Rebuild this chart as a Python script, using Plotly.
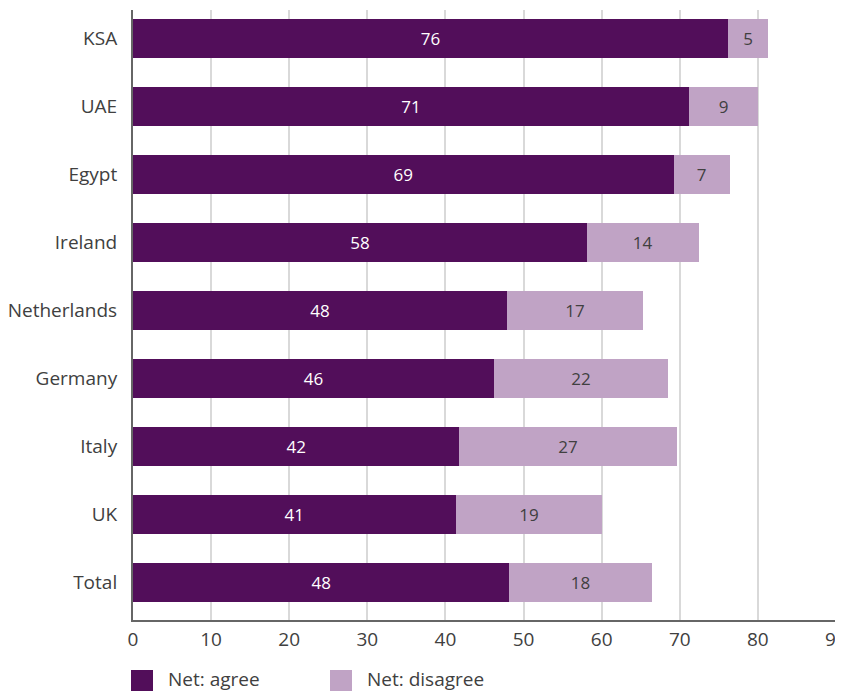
import plotly.graph_objects as go

categories = ["KSA", "UAE", "Egypt", "Ireland", "Netherlands", "Germany", "Italy", "UK", "Total"]
agree = [76.2, 71.2, 69.2, 58.1, 47.9, 46.2, 41.8, 41.3, 48.2]
disagree = [5.1, 8.8, 7.2, 14.3, 17.4, 22.3, 27.8, 18.8, 18.2]
agree_labels = ["76", "71", "69", "58", "48", "46", "42", "41", "48"]
disagree_labels = ["5", "9", "7", "14", "17", "22", "27", "19", "18"]
x_ticks = [0, 10, 20, 30, 40, 50, 60, 70, 80, 90]
series_names = ["Net: agree", "Net: disagree"]

AGREE_COLOR = "#520e5a"
DISAGREE_COLOR = "#c0a3c5"
FONT = "Open Sans"
TEXT_COLOR = "#404040"

# page body has an 8px margin, so the figure is sized/offset accordingly
OFF = 8
W, H = 843 - OFF, 691 - OFF

fig = go.Figure()
fig.add_trace(go.Bar(
    y=categories, x=agree, orientation="h", name=series_names[0],
    marker=dict(color=AGREE_COLOR, line=dict(width=0)),
    text=agree_labels, textposition="inside", insidetextanchor="middle",
    textfont=dict(color="white", size=17, family=FONT),
    showlegend=False, hoverinfo="skip",
))
fig.add_trace(go.Bar(
    y=categories, x=disagree, orientation="h", name=series_names[1],
    marker=dict(color=DISAGREE_COLOR, line=dict(width=0)),
    text=disagree_labels, textposition="inside", insidetextanchor="middle",
    textfont=dict(color=TEXT_COLOR, size=17, family=FONT),
    showlegend=False, hoverinfo="skip",
))

PLOT_L, PLOT_R, PLOT_T, PLOT_B = 133 - OFF, 843 - OFF, 10 - OFF, 620 - OFF
def px_x(p):
    return (p - OFF - PLOT_L) / (PLOT_R - PLOT_L)
def px_y(p):
    return (PLOT_B - (p - OFF)) / (PLOT_B - PLOT_T)

legend_items = [(series_names[0], AGREE_COLOR, 131), (series_names[1], DISAGREE_COLOR, 330)]
shapes = []
annotations = []
for nm, col, left in legend_items:
    shapes.append(dict(type="rect", xref="paper", yref="paper",
                       x0=px_x(left), x1=px_x(left + 22), y0=px_y(695), y1=px_y(670),
                       fillcolor=col, line=dict(width=0), layer="above"))
    annotations.append(dict(xref="paper", yref="paper", x=px_x(left + 35), y=px_y(679),
                            xanchor="left", yanchor="middle", showarrow=False, text=nm,
                            font=dict(size=19, color=TEXT_COLOR, family=FONT)))

fig.update_layout(
    width=W, height=H,
    barmode="stack", bargap=0.43,
    plot_bgcolor="white", paper_bgcolor="white",
    margin=dict(l=PLOT_L, r=W - PLOT_R, t=PLOT_T, b=H - PLOT_B, autoexpand=False),
    font=dict(family=FONT, size=18, color=TEXT_COLOR),
    showlegend=False,
    shapes=shapes, annotations=annotations,
    xaxis=dict(
        range=[0, 90.9], tickvals=x_ticks, showgrid=True, automargin=False,
        gridcolor="#d9d9d9", gridwidth=1.5, zeroline=False,
        showline=True, linecolor="#666666", linewidth=2,
        ticks="", ticklabelstandoff=1, ticklabeloverflow="allow",
        tickfont=dict(size=19, color=TEXT_COLOR, family=FONT),
    ),
    yaxis=dict(
        type="category", categoryorder="array", categoryarray=categories,
        range=[8.55, -0.42], showgrid=False, zeroline=False, automargin=False,
        showline=True, linecolor="#666666", linewidth=2,
        ticks="", ticklabelstandoff=10,
        tickfont=dict(size=19, color=TEXT_COLOR, family=FONT),
    ),
)

fig.write_html("out.html")
